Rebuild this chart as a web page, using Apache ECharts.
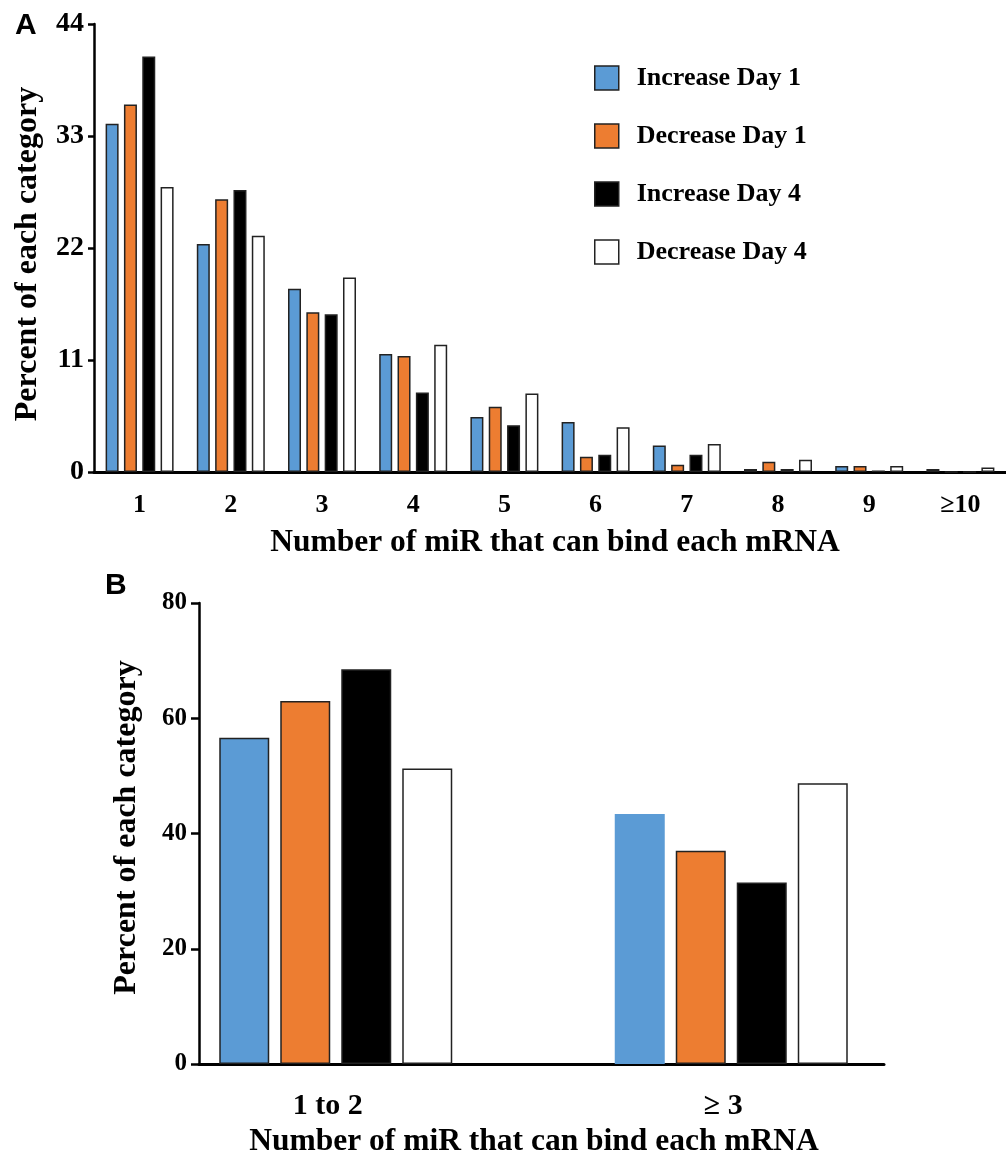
<!DOCTYPE html>
<html>
<head>
<meta charset="utf-8">
<script src="https://cdn.jsdelivr.net/npm/echarts@6/dist/echarts.min.js"></script>
<style>
html,body{margin:0;padding:0;background:#fff;}
#chart{width:1006px;height:1158px;}
</style>
</head>
<body>
<div id="chart"></div>
<script>
// ---- Data ----
const seriesNames = ['Increase Day 1', 'Decrease Day 1', 'Increase Day 4', 'Decrease Day 4'];
const colors = ['#5B9BD5', '#ED7D31', '#000000', '#FFFFFF'];

// Panel A
const catsA = ['1', '2', '3', '4', '5', '6', '7', '8', '9', '≥10'];
const incDay1A = [34.2, 22.4, 18.0, 11.6, 5.4, 4.9, 2.6, 0.3, 0.6, 0.3];
const decDay1A = [36.1, 26.8, 15.7, 11.4, 6.4, 1.5, 0.7, 1.0, 0.6, 0];
const incDay4A = [40.8, 27.7, 15.5, 7.8, 4.6, 1.7, 1.7, 0.3, 0.15, 0];
const decDay4A = [28.0, 23.2, 19.1, 12.5, 7.7, 4.4, 2.75, 1.2, 0.6, 0.45];
const ticksA = [0, 11, 22, 33, 44];

// Panel B
const catsB = ['1 to 2', '≥ 3'];
const incDay1B = [56.6, 43.4];
const decDay1B = [63.0, 37.0];
const incDay4B = [68.5, 31.5];
const decDay4B = [51.3, 48.7];
const ticksB = [0, 20, 40, 60, 80];

const xTitle = 'Number of miR that can bind each mRNA';
const yTitle = 'Percent of each category';

// ---- Styles ----
const serif = "'Liberation Serif', 'Times New Roman', serif";
const sans = "'Liberation Sans', Arial, sans-serif";
const border = '#222';

const dataA = [incDay1A, decDay1A, incDay4A, decDay4A];
const dataB = [incDay1B, decDay1B, incDay4B, decDay4B];

const series = [];
seriesNames.forEach((name, i) => {
  series.push({
    name, type: 'bar', xAxisIndex: 0, yAxisIndex: 0,
    data: dataA[i], barWidth: 13, barGap: '41%',
    itemStyle: { color: colors[i], borderColor: border, borderWidth: 1.5 },
    silent: true
  });
});
seriesNames.forEach((name, i) => {
  series.push({
    name, type: 'bar', xAxisIndex: 1, yAxisIndex: 1,
    data: dataB[i].map((v, j) => (i === 0 && j === 1) ? { value: v, itemStyle: { borderWidth: 0 } } : v),
    barWidth: 50, barGap: '22%',
    itemStyle: { color: colors[i], borderColor: border, borderWidth: 1.5 },
    silent: true
  });
});

const option = {
  animation: false,
  backgroundColor: '#fff',
  title: [
    { text: 'A', left: 10, top: 6, textStyle: { fontFamily: sans, fontWeight: 'bold', fontSize: 30, color: '#000' } },
    { text: 'B', left: 100, top: 566, textStyle: { fontFamily: sans, fontWeight: 'bold', fontSize: 30, color: '#000' } },
    { text: xTitle, left: 529, top: 1121, textAlign: 'center', textStyle: { fontFamily: serif, fontWeight: 'bold', fontSize: 31.5, color: '#000' } }
  ],
  legend: {
    data: seriesNames,
    orient: 'vertical',
    left: 594, top: 65,
    itemWidth: 24, itemHeight: 24, itemGap: 32,
    icon: 'rect',
    padding: 0,
    itemStyle: { borderColor: border, borderWidth: 1.5 },
    textStyle: { fontFamily: serif, fontWeight: 'bold', fontSize: 26, color: '#000', lineHeight: 24, padding: [0, 0, 0, 13] },
    selectedMode: false
  },
  grid: [
    { left: 94, top: 24, width: 920, height: 448 },
    { left: 138, top: 603, width: 791, height: 461 },
    { left: 199, top: 603, width: 685, height: 461 }
  ],
  xAxis: [
    {
      type: 'category', gridIndex: 0, data: catsA,
      axisLine: { lineStyle: { color: '#000', width: 3 } },
      axisTick: { show: false },
      axisLabel: { fontFamily: serif, fontWeight: 'bold', fontSize: 26, color: '#000', margin: 20 },
      name: xTitle, nameLocation: 'middle', nameGap: 55,
      nameTextStyle: { fontFamily: serif, fontWeight: 'bold', fontSize: 31.5, color: '#000', padding: [0, 0, 0, 10] }
    },
    {
      type: 'category', gridIndex: 1, data: catsB,
      axisLine: { show: false }, axisTick: { show: false },
      axisLabel: { fontFamily: serif, fontWeight: 'bold', fontSize: 30, color: '#000', margin: 27, padding: [0, 16, 0, 0] }
    },
    {
      type: 'category', gridIndex: 2, data: catsB,
      axisLine: { lineStyle: { color: '#000', width: 3 } },
      axisTick: { show: false }, axisLabel: { show: false }
    }
  ],
  yAxis: [
    {
      type: 'value', gridIndex: 0, min: ticksA[0], max: ticksA[ticksA.length - 1], interval: ticksA[1] - ticksA[0],
      splitLine: { show: false },
      axisLine: { show: true, lineStyle: { color: '#000', width: 2.5 } },
      axisTick: { show: true, length: 6, lineStyle: { color: '#000', width: 2.5 } },
      axisLabel: { fontFamily: serif, fontWeight: 'bold', fontSize: 28, color: '#000', margin: 10 },
      name: yTitle, nameLocation: 'middle', nameGap: 50,
      nameTextStyle: { fontFamily: serif, fontWeight: 'bold', fontSize: 32, color: '#000', padding: [0, 12, 0, 0] }
    },
    {
      type: 'value', gridIndex: 1, min: ticksB[0], max: ticksB[ticksB.length - 1],
      show: false
    },
    {
      type: 'value', gridIndex: 2, min: ticksB[0], max: ticksB[ticksB.length - 1], interval: ticksB[1] - ticksB[0],
      splitLine: { show: false },
      axisLine: { show: true, lineStyle: { color: '#000', width: 2.5 } },
      axisTick: { show: true, length: 8, lineStyle: { color: '#000', width: 2.5 } },
      axisLabel: { fontFamily: serif, fontWeight: 'bold', fontSize: 25, color: '#000', margin: 12 },
      name: yTitle, nameLocation: 'middle', nameGap: 56,
      nameTextStyle: { fontFamily: serif, fontWeight: 'bold', fontSize: 32, color: '#000', padding: [0, 0, 0, 12] }
    }
  ],
  series
};

const chart = echarts.init(document.getElementById('chart'), null, { renderer: 'canvas' });
chart.setOption(option);
</script>
</body>
</html>
